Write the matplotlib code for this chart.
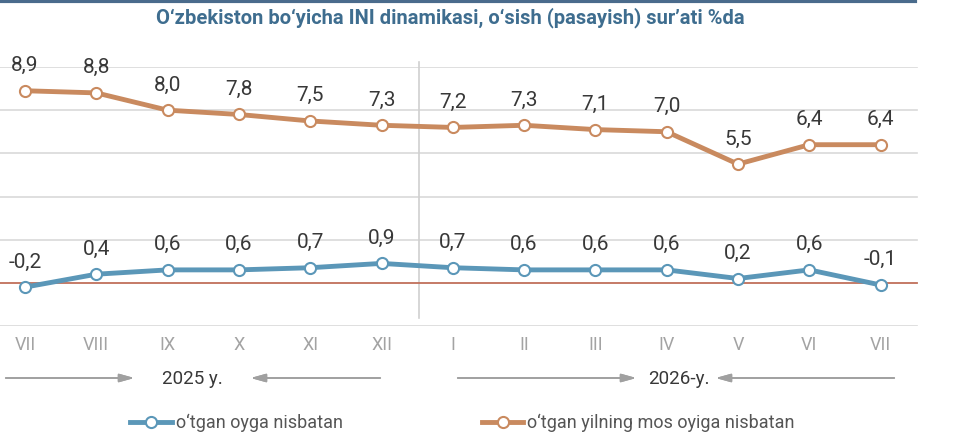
import numpy as np
import matplotlib.pyplot as plt
from matplotlib.lines import Line2D

months = ["VII", "VIII", "IX", "X", "XI", "XII", "I", "II", "III", "IV", "V", "VI", "VII"]
monthly = [-0.2, 0.4, 0.6, 0.6, 0.7, 0.9, 0.7, 0.6, 0.6, 0.6, 0.2, 0.6, -0.1]
annual = [8.9, 8.8, 8.0, 7.8, 7.5, 7.3, 7.2, 7.3, 7.1, 7.0, 5.5, 6.4, 6.4]
years = ["2025 y.", "2026-y."]
legend_labels = ["o\u2018tgan oyga nisbatan", "o\u2018tgan yilning mos oyiga nisbatan"]
title = "O\u2018zbekiston bo\u2018yicha INI dinamikasi, o\u2018sish (pasayish) sur\u2019ati %da"

blue = "#5b97b8"
orange = "#c98a5f"
grid_c = "#d9d9d9"
txt = "#383838"

plt.rcParams['font.family'] = ['Roboto', 'DejaVu Sans']

W, H = 980, 439
fig = plt.figure(figsize=(W / 100, H / 100), dpi=100)

# axes: value 10 at y=68px, -2 at y=327px; point 0 at x=25px, step 71.3px
step = 71.3
x0 = 25
ax = fig.add_axes([0, (H - 327) / H, 1, (327 - 68) / H])
ax.set_xlim(-x0 / step, (W - x0) / step)
ax.set_ylim(-2, 10)
ax.axis("off")

x = np.arange(len(months))
xr = (917 - x0) / step

for g in [-2, 2, 4, 6, 8, 10]:
    ax.plot([-x0 / step, xr], [g, g], color=grid_c, lw=1.2, zorder=1)
ax.plot([-x0 / step, xr], [0, 0], color="#c0705a", lw=1.3, zorder=2)
ax.plot([5.53, 5.53], [-1.65, 10.25], color="#d0d0d0", lw=1.2, zorder=1, clip_on=False)

for vals, col in [(annual, orange), (monthly, blue)]:
    ax.plot(x, vals, color=col, lw=3.5, zorder=3, solid_capstyle="round",
            marker="o", ms=8, mfc="white", mec=col, mew=1.5)
    for xi, v in zip(x, vals):
        ax.annotate(f"{v:.1f}".replace(".", ","), (xi, v), xytext=(0, 12),
                    textcoords="offset points", ha="center", va="bottom",
                    fontsize=15, color=txt, zorder=5)

# month labels
for xi, m in zip(x, months):
    fig.text((x0 + xi * step) / W, 1 - 345 / H, m, ha="center", va="center",
             fontsize=13, color="#a3a3a3")

# year arrows
ay = 1 - 379 / H
arr = dict(arrowstyle="-|>,head_length=0.9,head_width=0.25", color="#a0a0a0", lw=1.2)
for (xa, xb) in [(3, 137), (383, 248), (455, 639), (897, 713)]:
    fig.add_artist(plt.annotate("", xy=(xb / W, ay), xytext=(xa / W, ay),
                                xycoords="figure fraction", textcoords="figure fraction",
                                arrowprops=arr))
fig.text(192 / W, ay, years[0], ha="center", va="center", fontsize=13.5, color=txt)
fig.text(679 / W, ay, years[1], ha="center", va="center", fontsize=13.5, color=txt)

# legend
ly = 1 - 423 / H
for (xs, xe, xm, col, lab) in [(130, 172, 151, blue, legend_labels[0]),
                               (482, 523, 503, orange, legend_labels[1])]:
    fig.add_artist(Line2D([xs / W, xe / W], [ly, ly], color=col, lw=3.5))
    fig.add_artist(Line2D([xm / W], [ly], marker="o", ms=8, mfc="white", mec=col, mew=1.5))
    fig.text((xe + 4) / W, ly, lab, ha="left", va="center", fontsize=13, color="#555555")

# title and top rule
fig.add_artist(Line2D([0, 915 / W], [1 - 1.5 / H, 1 - 1.5 / H], color="#4a6b8c", lw=3))
fig.text(450 / W, 1 - 18 / H, title, ha="center", va="center", fontsize=14.5,
         color="#3e6d8f", fontweight="bold")

fig.savefig("out.png", dpi=100)
